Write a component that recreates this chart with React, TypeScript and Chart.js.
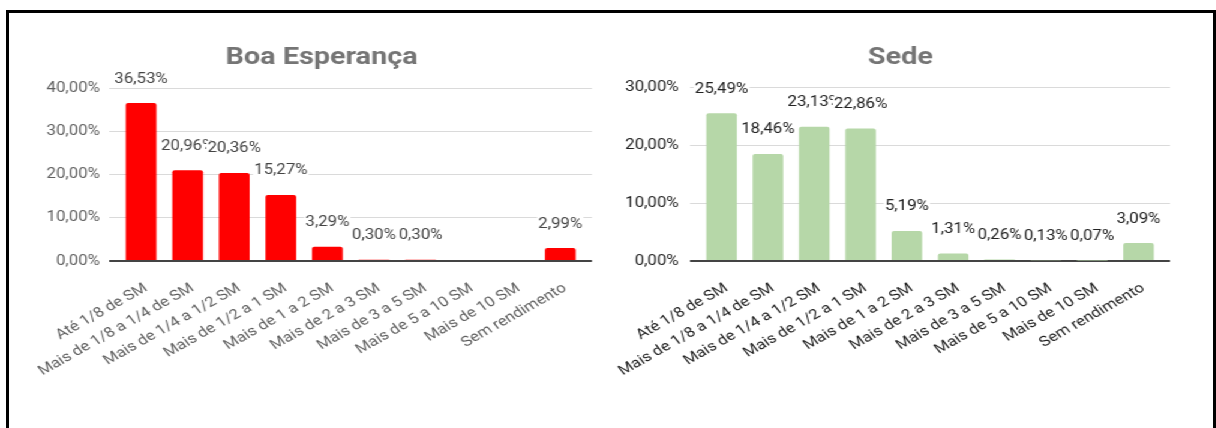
import React, { useEffect, useRef } from 'react';
import { Chart, registerables } from 'chart.js';

Chart.register(...registerables);

// ---- data ----
const CATEGORIES = [
  'Até 1/8 de SM',
  'Mais de 1/8 a 1/4 de SM',
  'Mais de 1/4 a 1/2 SM',
  'Mais de 1/2 a 1 SM',
  'Mais de 1 a 2 SM',
  'Mais de 2 a 3 SM',
  'Mais de 3 a 5 SM',
  'Mais de 5 a 10 SM',
  'Mais de 10 SM',
  'Sem rendimento',
];
const BOA_ESPERANCA = [36.53, 20.96, 20.36, 15.27, 3.29, 0.3, 0.3, 0, 0, 2.99];
const SEDE = [25.49, 18.46, 23.13, 22.86, 5.19, 1.31, 0.26, 0.13, 0.07, 3.09];
const BOA_TITLE = 'Boa Esperança';
const SEDE_TITLE = 'Sede';
const BOA_MAX = 40;
const SEDE_MAX = 30;
const TICK_STEP = 10;

// ---- layout (unstretched coords; the whole drawing is stretched horizontally) ----
const STRETCH = 1.2;
const CANVAS_H = 428;
const PLOT_BOTTOM = 261;

function fmtPct(v: number) {
  return v.toFixed(2).replace('.', ',') + '%';
}

const titlePlugin = {
  id: 'sheetTitle',
  afterDraw(chart: any, _args: any, opts: any) {
    const ctx = chart.ctx;
    ctx.save();
    ctx.font = 'bold 24px Roboto';
    ctx.fillStyle = '#757575';
    ctx.textAlign = 'center';
    ctx.textBaseline = 'middle';
    ctx.fillText(opts.text, opts.x, opts.y);
    ctx.restore();
  },
};

const labelPlugin = {
  id: 'barLabels',
  afterDatasetsDraw(chart: any, _args: any, opts: any) {
    const ctx = chart.ctx;
    const meta = chart.getDatasetMeta(0);
    const values: number[] = opts.values;
    ctx.save();
    ctx.font = '14px Roboto';
    ctx.textAlign = 'center';
    ctx.textBaseline = 'middle';
    meta.data.forEach((bar: any, i: number) => {
      const v = values[i];
      if (!(v > 0)) return;
      const text = fmtPct(v);
      const w = ctx.measureText(text).width;
      const y = bar.y - 24;
      ctx.fillStyle = '#ffffff';
      ctx.fillRect(bar.x - w / 2 - 1, y - 8, w + 2, 16);
      ctx.fillStyle = opts.color;
      ctx.fillText(text, bar.x, y);
    });
    ctx.restore();
  },
};

type PanelProps = {
  values: number[];
  max: number;
  title: string;
  left: number;
  width: number;
  chartLeft: number;
  chartRight: number;
  top: number;
  titleX: number;
  barColor: string;
  tickColor: string;
  labelColor: string;
  yPad: number;
};

function Panel(p: PanelProps) {
  const ref = useRef<HTMLCanvasElement | null>(null);
  useEffect(() => {
    const canvas = ref.current!;
    const chart = new Chart(canvas, {
      type: 'bar',
      data: {
        datasets: [
          {
            data: p.values.map((v, i) => ({ x: i, y: v })),
            backgroundColor: p.barColor,
            borderRadius: 2,
            categoryPercentage: 0.66,
            barPercentage: 1,
          },
        ],
      },
      plugins: [titlePlugin, labelPlugin],
      options: {
        responsive: false,
        animation: false,
        devicePixelRatio: 1,
        layout: { padding: { left: 0, right: p.width - p.chartRight, top: p.top, bottom: 0 } },
        plugins: {
          legend: { display: false },
          tooltip: { enabled: false },
          title: { display: false },
          sheetTitle: { text: p.title, x: p.titleX, y: 58 },
          barLabels: { values: p.values, color: p.labelColor },
        } as any,
        scales: {
          x: {
            type: 'linear',
            min: -0.69,
            max: 9.68,
            offset: false,
            grid: { display: false },
            border: { display: false },
            afterBuildTicks: (axis: any) => {
              axis.ticks = CATEGORIES.map((_, i) => ({ value: i }));
            },
            afterFit: (axis: any) => {
              axis.height = CANVAS_H - PLOT_BOTTOM;
            },
            ticks: {
              autoSkip: false,
              minRotation: 34,
              maxRotation: 34,
              padding: 11,
              labelOffset: 4,
              color: p.tickColor,
              font: { family: 'Roboto', size: 14 },
              callback: (v: any) => CATEGORIES[v as number] ?? '',
            },
          },
          y: {
            min: 0,
            max: p.max,
            afterFit: (axis: any) => {
              axis.width = p.chartLeft;
            },
            grid: {
              drawTicks: false,
              color: (c: any) => (c.tick && c.tick.value === 0 ? '#444444' : '#dadada'),
              lineWidth: (c: any) => (c.tick && c.tick.value === 0 ? 2 : 1),
            },
            border: { display: false },
            ticks: {
              stepSize: TICK_STEP,
              padding: p.yPad,
              color: p.tickColor,
              font: { family: 'Roboto', size: 14 },
              callback: (v: any) => fmtPct(Number(v)),
            },
          },
        } as any,
      },
    } as any);
    return () => chart.destroy();
  }, []);
  return (
    <canvas
      ref={ref}
      width={p.width}
      height={CANVAS_H}
      style={{ position: 'absolute', left: p.left, top: 0, width: p.width, height: CANVAS_H }}
    />
  );
}

export default function App() {
  return (
    <div
      style={{
        position: 'absolute',
        left: 0,
        top: 0,
        width: 1216,
        height: 428,
        overflow: 'hidden',
        background: '#ffffff',
      }}
    >
      <div
        style={{
          position: 'absolute',
          left: 6,
          top: 10,
          width: 1210,
          height: 600,
          boxSizing: 'border-box',
          border: '3px solid #000',
        }}
      />
      <div
        style={{
          position: 'absolute',
          left: 0,
          top: 0,
          width: 1000,
          height: CANVAS_H,
          transform: `scaleX(${STRETCH})`,
          transformOrigin: '0 0',
        }}
      >
        <Panel
          values={BOA_ESPERANCA}
          max={BOA_MAX}
          title={BOA_TITLE}
          left={0}
          width={520}
          chartLeft={90.8}
          chartRight={493.3}
          top={88}
          titleX={268}
          barColor="#ff0000"
          tickColor="#5f5f5f"
          labelColor="#444444"
          yPad={7.5}
        />
        <Panel
          values={SEDE}
          max={SEDE_MAX}
          title={SEDE_TITLE}
          left={480}
          width={520}
          chartLeft={94.7}
          chartRight={495}
          top={87}
          titleX={270.4}
          barColor="#b6d7a8"
          tickColor="#222222"
          labelColor="#222222"
          yPad={9.2}
        />
      </div>
    </div>
  );
}
